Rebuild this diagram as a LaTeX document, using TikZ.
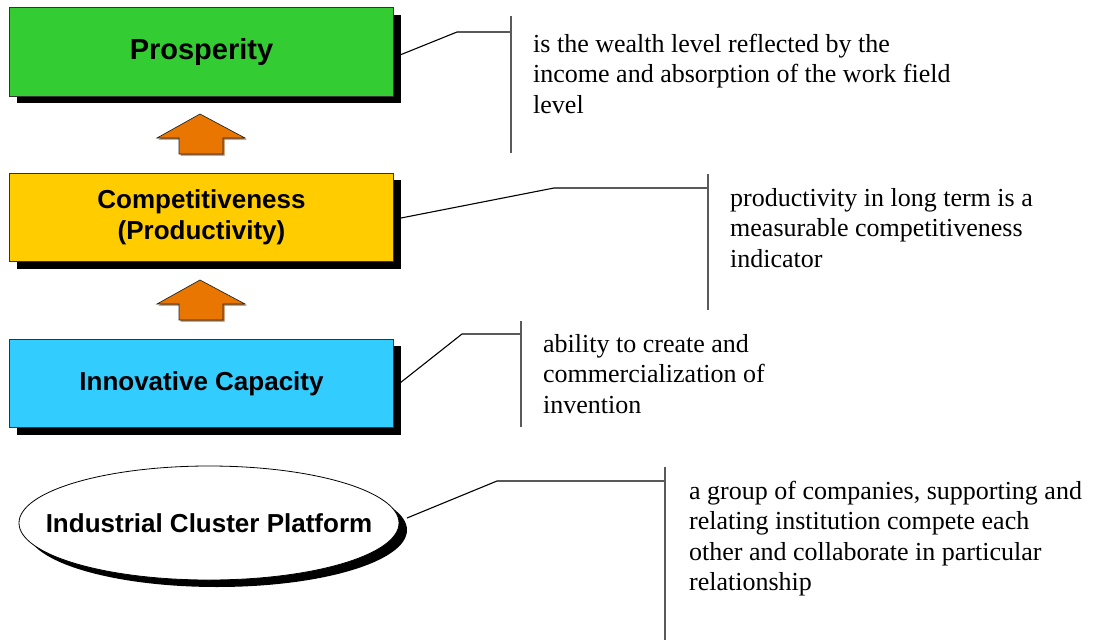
\documentclass[tikz,border=0pt]{standalone}
\usepackage{fontspec}
\setmainfont{Liberation Serif}
\setsansfont{Liberation Sans}
\usetikzlibrary{shapes.geometric,shadows,calc}
\definecolor{boxgreen}{RGB}{51,204,51}
\definecolor{boxyellow}{RGB}{255,204,0}
\definecolor{boxcyan}{RGB}{51,204,255}
\definecolor{arroworange}{RGB}{232,118,0}
\definecolor{arrowshade}{RGB}{160,85,20}
\definecolor{bargray}{RGB}{90,90,90}
\tikzset{
  stagebox/.style={draw=black!80, line width=0.8pt, minimum width=384pt, minimum height=88.5pt,
    inner sep=0pt, align=center, font=\sffamily\bfseries\fontsize{26}{31}\selectfont,
    drop shadow={shadow xshift=7pt, shadow yshift=-7pt, opacity=1, fill=black}},
  platformtext/.style={inner sep=0pt, font=\sffamily\bfseries\fontsize{26}{31}\selectfont},
  platformrim/.style={draw=black, line width=0.8pt, fill=white},
  platformshadow/.style={fill=black},
  callout/.style={draw=black, line width=1.1pt},
  calloutbar/.style={draw=bargray, line width=1.4pt},
  note/.style={anchor=base west, inner sep=0pt},
  uparrow/.style={fill=arroworange, draw=black!85, line width=0.7pt, line join=miter},
  uparrowshade/.style={fill=arrowshade, draw=none, opacity=0.8},
}
\newcommand{\notetext}[2]{\parbox[t]{#1}{\fontsize{26}{30.5}\selectfont\raggedright #2}}
\begin{document}
\begin{tikzpicture}[x=1pt,y=-1pt]
\useasboundingbox (0,0) rectangle (1096,640);

% boxes
\node[stagebox, fill=boxgreen, font=\sffamily\bfseries\fontsize{29}{34}\selectfont] (p) at (201.5,51.75) {Prosperity};
\node[stagebox, fill=boxyellow] (c) at (201.5,217.5) {Competitiveness\\(Productivity)};
\node[stagebox, fill=boxcyan] (i) at (201.5,383.3) {Innovative Capacity};

% platform ellipse
\coordinate (clc) at (209,523);
\fill[platformshadow] ($(clc)+(8,7)$) ellipse [x radius=190, y radius=57];
\draw[platformrim] (clc) ellipse [x radius=190, y radius=57];
\node[platformtext] (cl) at (clc) {Industrial Cluster Platform};

% block arrows
\foreach \ty in {114,280} {
  \fill[uparrowshade] (201.5,\ty+1.5) -- ++(45,24) -- ++(-22,0) -- ++(0,16) -- ++(-44,0) -- ++(0,-16) -- ++(-22,0) -- cycle;
  \draw[uparrow] (200,\ty) -- ++(45,24) -- ++(-22,0) -- ++(0,16) -- ++(-44,0) -- ++(0,-16) -- ++(-22,0) -- cycle;
}

% callout coordinates
\coordinate (p0) at (400,55);  \coordinate (p1) at (457,32);  \coordinate (p2) at (511,32);
\coordinate (pt) at (511,16);  \coordinate (pb) at (511,153);
\coordinate (c0) at (401,218); \coordinate (c1) at (554,188); \coordinate (c2) at (708,188);
\coordinate (ct) at (708,174); \coordinate (cb) at (708,310);
\coordinate (i0) at (400,383); \coordinate (i1) at (462,334); \coordinate (i2) at (521,334);
\coordinate (it) at (521,321); \coordinate (ib) at (521,427);
\coordinate (l0) at (407,518); \coordinate (l1) at (497,481); \coordinate (l2) at (665,481);
\coordinate (lt) at (665,467); \coordinate (lb) at (665,640);

\draw[callout] (p0) -- (p1) -- (p2);
\draw[calloutbar] (pt) -- (pb);
\draw[callout] (c0) -- (c1) -- (c2);
\draw[calloutbar] (ct) -- (cb);
\draw[callout] (i0) -- (i1) -- (i2);
\draw[calloutbar] (it) -- (ib);
\draw[callout] (l0) -- (l1) -- (l2);
\draw[calloutbar] (lt) -- (lb);

% notes
\node[note] (np) at (533,52) {\notetext{460pt}{is the wealth level reflected by the\\income and absorption of the work field\\level}};
\node[note] (nc) at (730,206) {\notetext{360pt}{productivity in long term is a\\measurable competitiveness\\indicator}};
\node[note] (ni) at (543,352) {\notetext{300pt}{ability to create and\\commercialization of\\invention}};
\node[note] (nl) at (689,499) {\notetext{405pt}{a group of companies, supporting and\\relating institution compete each\\other and collaborate in particular\\relationship}};
\end{tikzpicture}
\end{document}
